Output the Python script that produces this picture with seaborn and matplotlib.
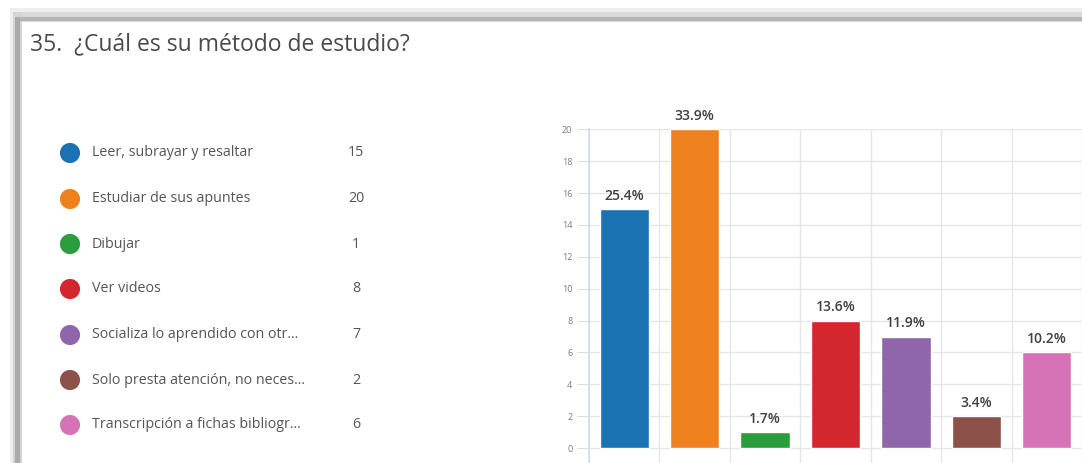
import matplotlib
matplotlib.use("Agg")
import matplotlib.pyplot as plt
from matplotlib.patches import Rectangle
import pandas as pd
import seaborn as sns

# Data
title = "35.  ¿Cuál es su método de estudio?"
categories = [
    "Leer, subrayar y resaltar",
    "Estudiar de sus apuntes",
    "Dibujar",
    "Ver videos",
    "Socializa lo aprendido con otr...",
    "Solo presta atención, no neces...",
    "Transcripción a fichas bibliogr...",
]
counts = [15, 20, 1, 8, 7, 2, 6]
pct_labels = ["25.4%", "33.9%", "1.7%", "13.6%", "11.9%", "3.4%", "10.2%"]
colors = ["#1a72b2", "#ef801e", "#2a9e3c", "#d4262e", "#9066ab", "#8c5149", "#d673b6"]
y_ticks = list(range(0, 21, 2))

df = pd.DataFrame({"metodo": categories, "n": counts})

sns.set_theme(style="white")
plt.rcParams["font.family"] = ["Open Sans", "DejaVu Sans"]

W, H = 1082, 463
fig = plt.figure(figsize=(W / 100, H / 100), dpi=100)
fig.patch.set_facecolor("white")

# window frame shadow (top and left)
for (x0, y0, w, h, c) in [
    (10, 8, W, 14, "#eeeeee"),
    (10, 8, 12, H, "#eeeeee"),
    (13, 12, W, 10, "#dadada"),
    (13, 12, 9, H, "#d4d4d4"),
    (16, 17, W, 4, "#b4b4b4"),
    (15, 17, 5, H, "#ababab"),
]:
    fig.patches.append(Rectangle((x0 / W, 1 - (y0 + h) / H), w / W, h / H,
                                 transform=fig.transFigure, color=c, lw=0, zorder=0))

fig.text(30 / W, 1 - 50 / H, title, fontsize=16.5, color="#4a4a4a", va="baseline", ha="left")

# bar chart
ax = fig.add_axes([589 / W, 0, (W - 589) / W, (H - 129.4) / H])
sns.barplot(data=df, x="metodo", y="n", hue="metodo", palette=colors,
            width=0.7, legend=False, ax=ax, zorder=3, saturation=1)
ax.set_xlim(-0.5, 6.42)
ax.set_ylim(-0.94, 20)
ax.set_yticks(y_ticks)
ax.set_yticklabels([str(t) for t in y_ticks], fontsize=6.5, color="#7a7a7a")
ax.tick_params(axis="y", length=9, width=0.8, color="#dcdcdc", pad=3, left=True)
ax.set_xticks([i - 0.5 for i in range(len(categories) + 1)])
ax.set_xticklabels([])
ax.tick_params(axis="x", length=0)
ax.set_xlabel("")
ax.set_ylabel("")
ax.grid(True, axis="both", color="#e6e6e6", lw=1, zorder=0)
for s in ["top", "right", "bottom"]:
    ax.spines[s].set_visible(False)
ax.spines["left"].set_color("#d4dbe2")
ax.spines["left"].set_linewidth(1.2)

for i, (v, lab) in enumerate(zip(counts, pct_labels)):
    ax.annotate(lab, (i, v), xytext=(0, 9.5), textcoords="offset points",
                ha="center", va="center", fontsize=10, color="#404040",
                fontweight="semibold", annotation_clip=False)

# legend on the left
lax = fig.add_axes([0, 0, 589 / W, 1])
lax.set_xlim(0, 589)
lax.set_ylim(H, 0)
lax.axis("off")
leg_y = [153, 199, 244, 289, 335, 380, 425]
lax.scatter([70] * len(categories), leg_y, s=210, c=colors, edgecolors="none", zorder=3)
for yy, cat, n in zip(leg_y, categories, counts):
    lax.text(92, yy, cat, fontsize=10.3, color="#555555", va="center", ha="left")
    lax.text(356, yy, str(n), fontsize=10.3, color="#555555", va="center", ha="center")

fig.savefig("out.png", dpi=100, facecolor="white")
